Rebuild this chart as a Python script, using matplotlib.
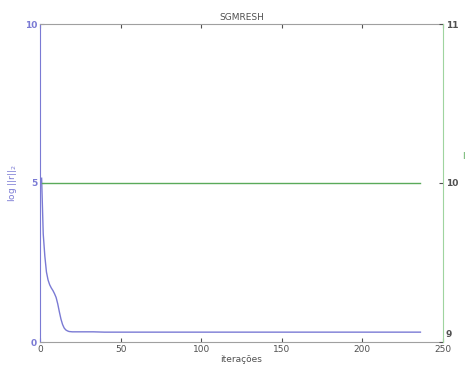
import matplotlib
matplotlib.use("Agg")
import matplotlib.pyplot as plt
import matplotlib.transforms as mtransforms

# data
iters = [1, 2, 3, 4, 5, 6, 7, 8, 9, 10, 11, 12, 13, 14, 15, 16, 17, 18, 20, 22, 25, 30, 33, 40, 60, 100, 150, 200, 236]
log_res = [5.15, 3.4, 2.7, 2.2, 1.95, 1.8, 1.7, 1.62, 1.52, 1.4, 1.2, 0.95, 0.72, 0.55, 0.44, 0.38, 0.35, 0.33, 0.32, 0.32, 0.32, 0.32, 0.32, 0.31, 0.31, 0.31, 0.31, 0.31, 0.31]
green_x = [1, 236]
green_y = [10, 10]

title = "SGMRESH"
xlabel = "iterações"
ylabel = r"log $\mathrm{||r||_2}$"
xticks = [0, 50, 100, 150, 200, 250]
yticks_left = [0, 5, 10]
yticks_right = [9, 10, 11]

blue = "#7a7ad4"
green = "#5aaa5a"
gray = "#a0a0a0"
textgray = "#505050"

fig = plt.figure(figsize=(4.67, 3.69), dpi=100)
ax = fig.add_axes([40/467, 27/369, 403/467, 318/369])
ax.plot(iters, log_res, color=blue, lw=1.0)
ax.set_xlim(0, 250)
ax.set_ylim(0, 10)
ax.set_xticks(xticks)
ax.set_yticks(yticks_left)
ax.tick_params(axis='x', labelsize=6.5, colors=textgray, length=3, direction='in', pad=2, top=True)
ax.tick_params(axis='y', labelsize=6.5, colors=blue, length=3, direction='in', pad=2)
for lab in ax.get_yticklabels():
    lab.set_fontweight('bold')
ax.spines['left'].set_color(blue)
ax.spines['top'].set_color(gray)
ax.spines['bottom'].set_color(gray)
ax.spines['right'].set_visible(False)
ax.set_title(title, fontsize=6.5, color=textgray, pad=3)
ax.set_xlabel(xlabel, fontsize=6.5, color=textgray, labelpad=1)
ax.set_ylabel(ylabel, fontsize=6.5, color=blue, labelpad=4)

ax2 = ax.twinx()
ax2.plot(green_x, green_y, color=green, lw=1.0)
ax2.set_ylim(9, 11)
ax2.set_yticks(yticks_right)
ax2.tick_params(axis='y', labelsize=6.5, colors=textgray, length=3, direction='in', pad=2)
labs = ax2.get_yticklabels()
for lab in labs:
    lab.set_fontweight('bold')
# lift the bottom right label a little so it clears the x tick label "250"
labs[0].set_transform(labs[0].get_transform() + mtransforms.ScaledTranslation(0, 6/72, fig.dpi_scale_trans))
ax2.spines['right'].set_color("#9fd49f")
for s in ['left', 'top', 'bottom']:
    ax2.spines[s].set_visible(False)
fig.text(462/467, 1 - 156/369, "l", fontsize=6.5, color=green, va='center', ha='left')

fig.savefig("out.png", dpi=100)
